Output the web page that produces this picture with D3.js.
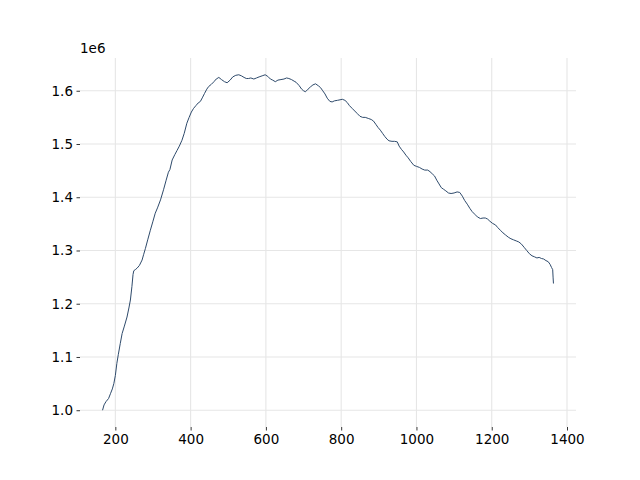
<!DOCTYPE html>
<html>
<head>
<meta charset="utf-8">
<script src="https://cdn.jsdelivr.net/npm/d3@7"></script>
<style>
  html, body { margin: 0; padding: 0; background: #fff; }
  svg { display: block; }
  text { font-family: "DejaVu Sans", sans-serif; }
</style>
</head>
<body>
<svg id="chart" width="640" height="480"></svg>
<script>
// ---- data (x, value in units of 1e6) ----
const xValues = [166,170,175,182,187,192,196,200,204,208,213,218,224,231,236,240,244,247,249,253,258,264,271,275,280,286,293,300,306,312,320,328,335,341,345,351,358,364,370,377,383,390,396,402,408,414,420,426,432,437,443,448,455,462,468,475,482,490,497,505,512,520,528,535,542,548,554,560,568,575,582,590,598,605,612,618,625,632,640,648,655,661,668,675,680,688,695,700,705,712,718,725,732,740,745,750,757,763,770,776,782,790,797,803,810,816,822,829,836,843,850,857,864,872,880,886,892,898,904,910,916,922,927,935,942,949,954,960,966,972,978,985,993,1000,1008,1015,1022,1030,1036,1042,1048,1054,1060,1066,1072,1078,1085,1092,1100,1108,1115,1122,1128,1135,1142,1148,1155,1162,1170,1177,1183,1189,1195,1202,1210,1216,1223,1230,1237,1244,1251,1258,1265,1272,1279,1286,1293,1300,1307,1314,1320,1326,1332,1338,1344,1350,1355,1359,1362,1363,1364];
const yValues = [1.000,1.010,1.016,1.022,1.031,1.040,1.050,1.065,1.088,1.105,1.125,1.144,1.158,1.175,1.192,1.207,1.232,1.255,1.262,1.264,1.267,1.272,1.282,1.292,1.304,1.320,1.338,1.355,1.370,1.380,1.395,1.414,1.432,1.447,1.452,1.470,1.480,1.488,1.496,1.507,1.520,1.539,1.550,1.560,1.567,1.572,1.577,1.580,1.588,1.595,1.603,1.608,1.612,1.617,1.622,1.625,1.621,1.617,1.615,1.620,1.626,1.629,1.630,1.628,1.625,1.623,1.623,1.624,1.622,1.624,1.626,1.628,1.630,1.627,1.622,1.620,1.617,1.620,1.621,1.622,1.624,1.623,1.621,1.618,1.616,1.610,1.603,1.600,1.598,1.603,1.607,1.611,1.613,1.609,1.606,1.601,1.594,1.586,1.580,1.579,1.581,1.582,1.583,1.584,1.582,1.578,1.572,1.567,1.562,1.557,1.552,1.550,1.550,1.548,1.546,1.543,1.537,1.531,1.526,1.520,1.514,1.509,1.506,1.505,1.505,1.504,1.496,1.490,1.485,1.479,1.474,1.467,1.460,1.458,1.456,1.453,1.451,1.451,1.448,1.444,1.440,1.432,1.425,1.418,1.415,1.412,1.408,1.407,1.408,1.410,1.409,1.402,1.394,1.387,1.379,1.373,1.368,1.363,1.360,1.361,1.361,1.359,1.355,1.351,1.348,1.343,1.338,1.333,1.329,1.325,1.322,1.320,1.318,1.316,1.312,1.306,1.300,1.294,1.290,1.288,1.286,1.287,1.285,1.284,1.281,1.279,1.274,1.268,1.264,1.250,1.238];
const xTicks = [200,400,600,800,1000,1200,1400];
const yTicks = [1.0,1.1,1.2,1.3,1.4,1.5,1.6];
const yTickLabels = ["1.0","1.1","1.2","1.3","1.4","1.5","1.6"];
const offsetLabel = "1e6";

const data = xValues.map((x, i) => ({x, y: yValues[i]}));

const svg = d3.select("#chart");
const mLeft = 80, mRight = 576, mTop = 58, mBottom = 427;

const xMin = d3.min(xValues), xMax = d3.max(xValues);
const yMin = d3.min(yValues), yMax = d3.max(yValues);
const xPad = (xMax - xMin) * 0.05, yPad = (yMax - yMin) * 0.05;

const x = d3.scaleLinear().domain([xMin - xPad, xMax + xPad]).range([mLeft, mRight]);
const y = d3.scaleLinear().domain([yMin - yPad, yMax + yPad]).range([mBottom, mTop]);

// grid
const grid = svg.append("g");
grid.selectAll("line.vx").data(xTicks).join("line")
  .attr("x1", d => x(d)).attr("x2", d => x(d))
  .attr("y1", mTop).attr("y2", mBottom)
  .attr("stroke", "#e6e6e6").attr("stroke-width", 1.1);
grid.selectAll("line.hy").data(yTicks).join("line")
  .attr("x1", mLeft).attr("x2", mRight)
  .attr("y1", d => y(d)).attr("y2", d => y(d))
  .attr("stroke", "#e6e6e6").attr("stroke-width", 1.1);

// axes
const xAxis = d3.axisBottom(x).tickValues(xTicks).tickSize(3.5).tickPadding(3.5).tickFormat(d3.format("d"));
const yAxis = d3.axisLeft(y).tickValues(yTicks).tickSize(3.5).tickPadding(3.5).tickFormat((d, i) => yTickLabels[i]);

const gx = svg.append("g").attr("transform", `translate(0,${mBottom})`).call(xAxis);
const gy = svg.append("g").attr("transform", `translate(${mLeft},0)`).call(yAxis);
[gx, gy].forEach(g => {
  g.select(".domain").remove();
  g.selectAll(".tick line").attr("stroke", "#000").attr("stroke-width", 0.8);
  g.selectAll(".tick text").attr("fill", "#000").style("font-size", "13.5px").style("font-family", "DejaVu Sans");
});

svg.append("text").attr("x", mLeft).attr("y", 53)
  .attr("fill", "#000").style("font-size", "13.5px").text(offsetLabel);

// line
const line = d3.line().x(d => x(d.x)).y(d => y(d.y));
svg.append("path").datum(data)
  .attr("d", line)
  .attr("fill", "none")
  .attr("stroke", "#2e4a6b")
  .attr("stroke-width", 1)
  .attr("stroke-linejoin", "round");
</script>
</body>
</html>
